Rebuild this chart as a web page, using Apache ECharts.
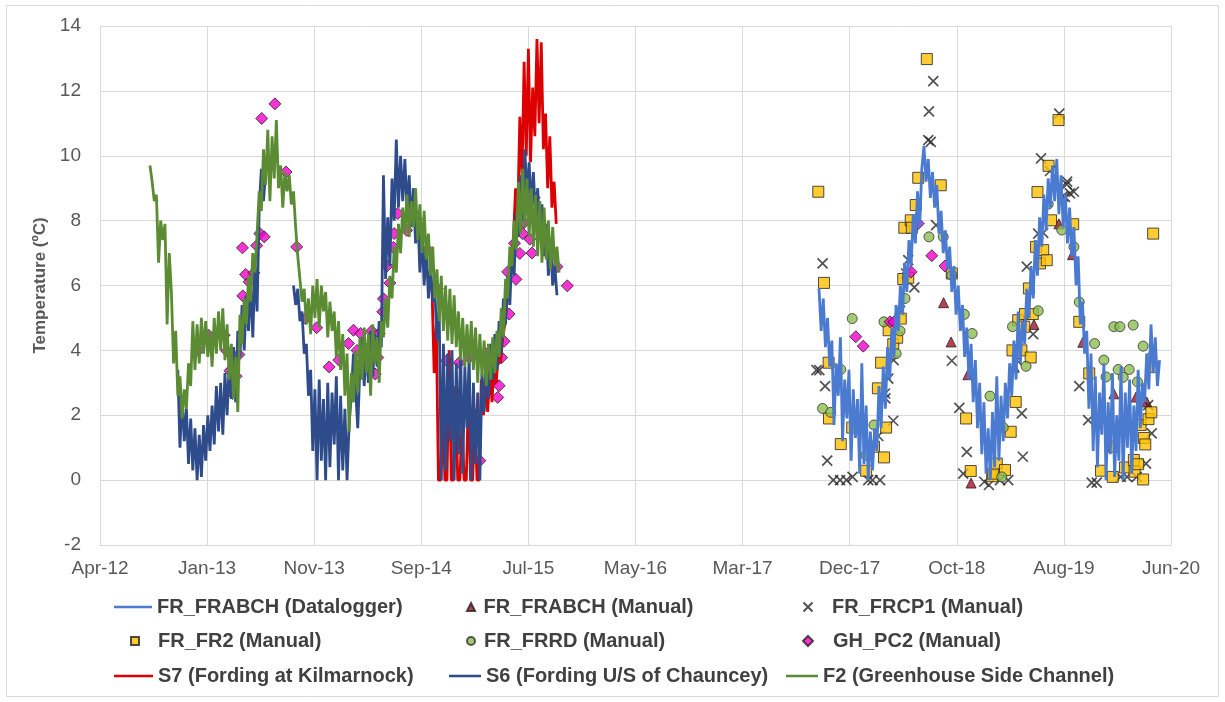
<!DOCTYPE html>
<html>
<head>
<meta charset="utf-8">
<script src="https://cdn.jsdelivr.net/npm/echarts/dist/echarts.min.js"></script>
<style>html,body{margin:0;padding:0;background:#fff}#chart{width:1225px;height:702px}</style>
</head>
<body>
<div id="chart"></div>
<script>
// ---- DATA (dates are Excel serial day numbers) ----
const X_BASE = 41000;            // 1-Apr-2012, first tick
const X_TICK_STEP = 300;         // days between tick labels
const MONTHS = ['Jan','Feb','Mar','Apr','May','Jun','Jul','Aug','Sep','Oct','Nov','Dec'];

// Continuous logger records: start date, sampling step (days), temperatures (°C)
const f2Start = 41140, f2Step = 6;
const f2Temps = [
 9.7,9.2,8.6,8.8,6.7,8.0,7.4,7.9,4.8,7.0,
 5.8,3.6,4.6,2.6,3.2,1.9,2.8,2.2,3.6,2.9,
 4.9,3.4,4.8,3.6,5.0,3.9,4.9,3.8,4.6,3.5,
 5.0,3.9,5.2,4.0,5.3,3.7,4.8,3.1,4.2,2.5,
 3.8,2.1,5.1,4.2,5.6,4.8,6.3,5.5,7.0,6.4,
 7.6,8.9,8.3,10.2,9.1,10.8,8.6,10.6,9.3,11.1,
 9.0,9.7,8.4,9.5,8.9,9.4,8.5,8.9,7.8,6.9,
 6.2,5.5,5.9,4.8,5.6,4.5,6.0,5.0,6.2,4.7,
 6.0,5.2,5.8,4.4,5.5,4.6,5.2,3.8,4.9,3.4,
 4.5,2.6,3.9,1.5,3.3,2.4,4.0,2.7,4.4,3.1,
 4.7,3.3,4.5,2.6,4.8,3.6,4.4,3.0,4.9,4.4,
 5.6,4.7,6.3,5.6,7.2,6.4,7.9,7.0,8.4,7.6,
 8.8,7.5,8.6,7.8,9.0,7.4,8.5,7.0,8.3,6.8,
 7.6,6.3,7.2,5.6,6.5,4.9,6.3,4.6,6.0,4.3,
 5.9,4.2,5.7,4.1,5.2,3.7,5.0,3.5,4.8,3.6,
 4.9,3.4,4.7,3.0,4.5,3.2,4.3,2.9,4.2,3.1,
 4.4,3.3,4.6,3.8,5.3,4.4,6.2,5.6,7.2,6.6,
 8.0,7.1,9.2,7.6,9.6,7.8,9.3,7.5,9.0,7.2,
 8.8,6.9,8.6,6.7,8.4,6.8,8.0,6.5,7.8,6.6,
 7.2,6.4
];

const s6Start = 41218, s6Step = 6;
const s6Temps = [
 3.4,1.0,2.6,1.2,2.2,0.5,1.9,0.3,1.6,0.0,
 1.4,0.1,1.7,0.6,2.0,0.9,2.3,1.1,2.9,1.5,
 3.0,1.4,3.3,2.0,3.6,2.5,4.1,2.4,4.6,3.8,
 5.4,4.0,5.7,4.6,6.1,4.4,6.6,5.2,8.4,9.6,
 8.6,9.5,null,null,null,null,null,null,null,null,
 null,null,null,null,6.0,5.4,5.9,4.9,5.2,3.9,
 4.2,2.6,3.4,0.9,2.8,0.0,3.1,0.6,2.5,0.0,
 3.0,0.4,2.7,1.1,3.2,0.0,2.6,0.3,2.2,0.0,
 1.8,2.6,3.9,2.8,1.6,3.5,4.4,2.9,4.1,3.0,
 4.6,3.2,4.5,3.5,4.9,4.1,9.4,6.2,8.1,6.6,
 9.3,8.0,10.5,8.4,10.0,8.6,9.9,8.3,9.4,7.8,
 9.0,7.3,8.3,6.4,7.6,6.0,7.2,5.6,6.6,5.5,
 5.8,4.3,5.3,0.0,4.2,0.3,3.9,1.2,4.0,0.0,
 3.6,0.8,4.1,0.2,3.5,1.6,3.8,0.0,3.0,0.5,
 2.7,0.0,3.3,2.1,3.9,2.5,4.2,3.1,4.5,3.4,
 4.9,3.9,5.6,4.8,6.3,5.4,7.1,6.3,8.2,7.5,
 9.4,8.0,10.2,8.7,9.8,8.4,9.5,8.0,9.0,7.4,
 8.5,6.9,7.9,6.3,7.4,6.0,6.6,5.7
];

const s7Start = 41930, s7Step = 6;
const s7Temps = [
 5.9,3.3,4.8,0.0,0.0,2.6,0.0,0.0,4.0,0.0,
 0.0,2.9,0.0,0.0,1.8,0.0,0.0,2.6,0.0,0.0,
 2.2,0.0,0.0,3.1,2.0,2.9,2.1,3.4,2.4,3.6,
 3.0,4.0,3.6,4.4,4.8,5.5,5.9,6.8,7.4,9.0,
 8.1,11.2,9.3,12.9,10.0,13.3,9.8,12.1,10.6,13.6,
 11.0,13.5,10.2,11.3,9.0,10.6,8.4,9.2,7.9
];

const logStart = 43014, logStep = 6;
const logTemps = [
 5.9,4.6,5.6,4.1,5.0,3.5,4.3,1.7,3.6,2.6,
 4.4,1.2,3.1,1.9,3.4,0.6,2.8,1.3,2.5,0.2,
 3.6,0.5,2.3,0.0,1.5,0.3,1.6,0.9,2.9,1.6,
 3.5,2.2,4.1,3.1,4.7,3.8,5.4,4.6,6.0,5.1,
 6.7,5.8,7.4,6.6,8.2,7.3,8.9,7.8,9.6,10.3,
 9.2,9.9,8.7,9.5,8.4,9.1,7.6,8.3,7.0,7.7,
 6.5,7.2,5.8,6.6,5.1,6.0,4.6,5.4,3.8,4.7,
 3.1,4.2,2.4,3.7,1.6,3.0,0.8,2.4,0.2,1.6,
 0.0,2.1,0.4,3.2,0.6,2.6,1.2,3.0,1.9,3.6,
 2.6,4.3,3.1,5.2,3.6,4.9,4.2,5.9,5.0,6.6,
 5.6,7.4,6.3,8.1,7.2,8.8,7.7,9.3,8.4,9.7,
 8.6,9.9,8.2,9.4,7.8,8.8,7.3,8.4,6.9,7.8,
 6.0,6.9,4.8,5.5,3.9,4.6,2.2,3.9,0.9,3.2,
 0.4,2.7,1.4,3.6,0.0,2.4,0.8,3.3,0.1,2.0,
 0.6,3.5,0.0,2.7,1.0,3.1,0.2,2.3,0.9,3.4,
 1.6,3.0,2.4,3.9,2.8,4.8,3.3,4.4,2.9,3.7
];

// Manual spot measurements: dates and temperatures
const abchManDates = [43363,43384,43431,43440,43561,43616,43686,43724,43753,43792,43840,43902,43932];
const abchManTemps = [5.47,4.26,3.25,-0.09,3.48,4.8,7.9,6.95,4.25,1.78,2.66,2.56,2.41];

const cp1Dates = [
 43007,43015,43024,43031,43037,43054,43073,43091,43108,43152,
 43164,43180,43185,43199,43200,43208,43222,43223,43241,43258,
 43264,43281,43320,43322,43327,43334,43342,43386,43407,43418,
 43428,43477,43490,43521,43544,43568,43582,43585,43596,43614,
 43628,43636,43642,43661,43687,43697,43703,43708,43709,43717,
 43728,43743,43768,43778,43792,43859,43877,43904,43930,43936,
 43946];
const cp1Temps = [
 3.39,3.39,6.68,2.9,0.6,0.0,0.0,0.0,0.1,0.0,
 0.0,1.36,0.0,2.67,2.52,3.13,1.83,3.7,5.22,6.37,
 6.78,5.94,10.48,11.37,10.43,12.3,7.86,3.68,2.23,0.2,
 0.87,-0.05,-0.15,0.0,0.0,3.7,2.06,0.72,6.58,4.5,
 7.6,9.92,7.62,9.53,11.3,8.75,8.73,9.12,9.2,8.84,
 8.89,2.9,1.85,-0.08,-0.08,0.1,0.1,0.1,0.51,2.31,
 1.44];

const fr2Dates = [
 43012,43028,43041,43042,43075,43107,43146,43168,43179,43188,
 43196,43202,43209,43222,43233,43243,43250,43253,43264,43271,
 43274,43285,43292,43316,43355,43386,43426,43439,43499,43502,
 43512,43535,43551,43556,43565,43572,43581,43589,43591,43602,
 43607,43613,43622,43626,43633,43642,43652,43657,43664,43685,
 43726,43743,43771,43804,43837,43840,43871,43896,43898,43908,
 43915,43922,43924,43928,43937,43945,43949,43950];
const fr2Temps = [
 8.89,6.08,3.62,1.9,1.11,1.62,0.29,1.03,2.83,3.62,
 0.7,1.62,4.62,4.19,4.39,4.98,6.2,7.78,6.24,8.01,
 7.78,8.48,9.32,12.98,9.09,6.37,1.9,0.28,0.12,0.2,
 0.51,0.31,1.49,4.0,2.41,4.93,4.0,4.73,5.12,5.91,
 3.78,5.12,7.19,8.88,6.68,7.09,6.78,9.69,8.01,11.1,
 7.89,4.88,3.29,0.29,0.1,1.03,0.39,0.62,0.26,0.49,
 1.70,0.02,1.3,1.1,1.88,2.09,3.49,7.6];

const frrdDates = [
 43024,43047,43075,43107,43146,43168,43196,43230,43241,43255,
 43322,43362,43386,43421,43443,43493,43526,43530,43556,43594,
 43628,43656,43694,43728,43743,43786,43812,43818,43840,43852,
 43857,43866,43883,43884,43894,43906,43922,43946];
const frrdTemps = [
 2.21,2.09,3.41,4.98,0.77,1.70,4.88,3.9,4.6,5.6,
 7.5,7.5,6.32,5.11,4.52,2.59,0.1,1.62,4.73,3.51,
 5.22,8.51,7.71,7.19,5.49,4.21,3.7,3.18,4.73,3.41,
 4.73,3.17,3.41,1.70,4.78,3.03,4.13,3.8];

const ghDates = [
 41275,41304,41331,41348,41355,41364,41371,41381,41389,41399,
 41400,41408,41418,41423,41431,41439,41448,41453,41460,41490,
 41521,41551,41576,41607,41642,41669,41696,41710,41720,41730,
 41740,41750,41754,41761,41771,41778,41782,41792,41794,41804,
 41812,41822,41824,41834,41859,41887,41917,41945,41971,42006,
 42034,42064,42080,42090,42100,42106,42114,42118,42125,42132,
 42142,42146,42161,42165,42176,42184,42188,42204,42210,42216,
 42255,42280,42309,43117,43138,43213,43224,43272,43292,43330,
 43367];
const ghTemps = [
 4.0,4.47,4.55,4.47,3.98,3.37,2.67,3.2,3.87,7.16,
 5.68,6.34,6.11,5.63,6.39,7.23,7.6,11.15,7.5,11.6,
 9.5,7.19,4.98,4.7,3.49,3.70,4.21,4.62,4.0,4.52,
 3.78,4.06,3.43,4.6,3.27,3.78,4.52,5.19,5.59,6.6,
 6.08,7.17,7.6,8.22,7.7,8.04,7.1,5.9,3.68,3.62,
 3.79,0.6,3.9,3.7,3.05,3.62,2.55,2.91,3.78,4.28,
 6.42,5.12,7.3,6.19,6.99,7.6,7.94,7.43,7.0,8.71,
 7.3,6.58,5.99,4.42,4.13,4.88,4.88,6.42,7.91,6.92,
 6.6];

// ---- helpers ----
function series2D(start, step, temps) {
  return temps.map((t, i) => [start - X_BASE + i * step, t === null ? '-' : t]);
}
function points(dates, temps) {
  return dates.map((d, i) => [d - X_BASE, temps[i]]);
}
function dateLabel(v) {
  const d = new Date(Date.UTC(1899, 11, 30) + (v + X_BASE) * 86400000);
  return MONTHS[d.getUTCMonth()] + '-' + String(d.getUTCFullYear()).slice(2);
}

const FONT = 'Liberation Sans, Arial, sans-serif';
const chart = echarts.init(document.getElementById('chart'), null, {renderer: 'canvas'});

function legendAt(name, left, rowY, iw, ih, pad, extra) {
  return Object.assign({
    data: [name], left: left, top: rowY - 10, padding: 0,
    itemWidth: iw, itemHeight: ih, selectedMode: false,
    textStyle: {fontFamily: FONT, fontSize: 20, fontWeight: 'bold', color: '#404040',
                lineHeight: 20, padding: [0, 0, 0, pad]}
  }, extra || {});
}
const lineIcon = {icon: 'rect'};

const lineBase = {type: 'line', symbol: 'none', showSymbol: false, connectNulls: false,
                  animation: false, silent: true};

const option = {
  animation: false,
  backgroundColor: '#ffffff',
  graphic: [{type: 'rect', shape: {x: 6.5, y: 5.5, width: 1212, height: 691},
             style: {fill: 'none', stroke: '#D9D9D9', lineWidth: 1}, silent: true}],
  grid: {left: 100, right: 54, top: 26, bottom: 157},
  xAxis: {
    type: 'value', min: 0, max: 3000, interval: X_TICK_STEP,
    axisLine: {show: true, onZero: false, lineStyle: {color: '#D9D9D9'}},
    axisTick: {show: false},
    splitLine: {show: true, lineStyle: {color: '#D9D9D9', width: 1}},
    axisLabel: {formatter: dateLabel, margin: 14, color: '#595959', fontSize: 19, fontFamily: FONT}
  },
  yAxis: {
    type: 'value', min: -2, max: 14, interval: 2,
    name: 'Temperature (ºC)', nameLocation: 'middle', nameGap: 47, nameRotate: 90,
    nameTextStyle: {color: '#595959', fontSize: 17, fontWeight: 'bold', fontFamily: FONT},
    axisLine: {show: false}, axisTick: {show: false},
    splitLine: {show: true, lineStyle: {color: '#D9D9D9', width: 1}},
    axisLabel: {margin: 19, color: '#595959', fontSize: 19, fontFamily: FONT}
  },
  legend: [
    legendAt('FR_FRABCH (Datalogger)', 114, 607, 38, 2.5, 0, lineIcon),
    legendAt('FR_FRABCH (Manual)', 466, 607, 8, 8, 3.5),
    legendAt('FR_FRCP1 (Manual)', 802.5, 607, 9, 9, 14.5),
    legendAt('FR_FR2 (Manual)', 130, 641, 8, 8, 14),
    legendAt('FR_FRRD (Manual)', 466, 641, 8, 8, 4),
    legendAt('GH_PC2 (Manual)', 802, 641, 10, 10, 15),
    legendAt('S7 (Fording at Kilmarnock)', 114, 676, 39, 2.5, 0, lineIcon),
    legendAt('S6 (Fording U/S of Chauncey)', 449, 676, 32, 2.5, 0, lineIcon),
    legendAt('F2 (Greenhouse Side Channel)', 786, 676, 32, 2.5, 0, lineIcon)
  ],
  series: [
    Object.assign({}, lineBase, {name: 'S7 (Fording at Kilmarnock)',
      data: series2D(s7Start, s7Step, s7Temps),
      lineStyle: {color: '#DC0000', width: 2.8}, itemStyle: {color: '#DC0000'}}),
    Object.assign({}, lineBase, {name: 'S6 (Fording U/S of Chauncey)',
      data: series2D(s6Start, s6Step, s6Temps),
      lineStyle: {color: '#2E4B8B', width: 2.8}, itemStyle: {color: '#2E4B8B'}}),
    Object.assign({}, lineBase, {name: 'F2 (Greenhouse Side Channel)',
      data: series2D(f2Start, f2Step, f2Temps),
      lineStyle: {color: '#5B8C34', width: 2.8}, itemStyle: {color: '#5B8C34'}}),
    Object.assign({}, lineBase, {name: 'FR_FRABCH (Datalogger)',
      data: series2D(logStart, logStep, logTemps),
      lineStyle: {color: '#4A7BD0', width: 2.8}, itemStyle: {color: '#4A7BD0'}}),
    {type: 'scatter', name: 'FR_FRABCH (Manual)', data: points(abchManDates, abchManTemps),
      symbol: 'triangle', symbolSize: 10, silent: true,
      itemStyle: {color: '#A8102A', borderColor: '#222', borderWidth: 1}},
    {type: 'scatter', name: 'FR_FRCP1 (Manual)', data: points(cp1Dates, cp1Temps),
      symbol: 'path://M0,0L10,10M10,0L0,10', symbolSize: 10, silent: true,
      itemStyle: {color: 'rgba(0,0,0,0)', borderColor: '#262626', borderWidth: 1.7}},
    {type: 'scatter', name: 'FR_FR2 (Manual)', data: points(fr2Dates, fr2Temps),
      symbol: 'rect', symbolSize: 11, silent: true,
      itemStyle: {color: '#FFC000', borderColor: '#222', borderWidth: 1}},
    {type: 'scatter', name: 'FR_FRRD (Manual)', data: points(frrdDates, frrdTemps),
      symbol: 'circle', symbolSize: 10, silent: true,
      itemStyle: {color: '#8CBE50', borderColor: '#333', borderWidth: 1}},
    {type: 'scatter', name: 'GH_PC2 (Manual)', data: points(ghDates, ghTemps),
      symbol: 'diamond', symbolSize: 12, silent: true,
      itemStyle: {color: '#F500CC', borderColor: '#222', borderWidth: 1}}
  ]
};
chart.setOption(option);
</script>
</body>
</html>
